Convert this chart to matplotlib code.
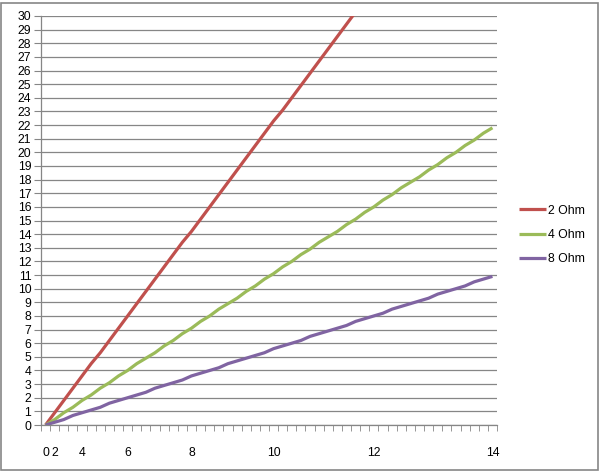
import matplotlib
matplotlib.use("Agg")
import matplotlib.pyplot as plt
from matplotlib.patches import Rectangle

# ── Data ───────────────────────────────────────────────────────────────
# 50 evenly spaced categories; labels shown only where 2*sqrt(i) is whole
categories = list(range(50))
label_cats = [0, 1, 4, 9, 16, 25, 36, 49]
label_text = ["0", "2", "4", "6", "8", "10", "12", "14"]

ohm2 = [0, 0.9, 1.8, 2.7, 3.6, 4.5, 5.3, 6.2, 7.1, 8.0,
        8.9, 9.8, 10.7, 11.6, 12.5, 13.4, 14.2, 15.1, 16.0, 16.9,
        17.8, 18.7, 19.6, 20.5, 21.4, 22.3, 23.1, 24.0, 24.9, 25.8,
        26.7, 27.6, 28.5, 29.4, 30.3, 31.2, 32.0, 32.9, 33.8, 34.7,
        35.6, 36.5, 37.4, 38.3, 39.2, 40.1, 40.9, 41.8, 42.7, 43.6]
ohm4 = [0, 0.4, 0.9, 1.3, 1.8, 2.2, 2.7, 3.1, 3.6, 4.0,
        4.5, 4.9, 5.3, 5.8, 6.2, 6.7, 7.1, 7.6, 8.0, 8.5,
        8.9, 9.3, 9.8, 10.2, 10.7, 11.1, 11.6, 12.0, 12.5, 12.9,
        13.4, 13.8, 14.2, 14.7, 15.1, 15.6, 16.0, 16.5, 16.9, 17.4,
        17.8, 18.2, 18.7, 19.1, 19.6, 20.0, 20.5, 20.9, 21.4, 21.8]
ohm8 = [0, 0.2, 0.4, 0.7, 0.9, 1.1, 1.3, 1.6, 1.8, 2.0,
        2.2, 2.4, 2.7, 2.9, 3.1, 3.3, 3.6, 3.8, 4.0, 4.2,
        4.5, 4.7, 4.9, 5.1, 5.3, 5.6, 5.8, 6.0, 6.2, 6.5,
        6.7, 6.9, 7.1, 7.3, 7.6, 7.8, 8.0, 8.2, 8.5, 8.7,
        8.9, 9.1, 9.3, 9.6, 9.8, 10.0, 10.2, 10.5, 10.7, 10.9]

series = [("2 Ohm", ohm2, "#C0504D"),
          ("4 Ohm", ohm4, "#9BBB59"),
          ("8 Ohm", ohm8, "#8064A2")]

GRID = "#868686"
plt.rcParams["font.family"] = ["Liberation Sans", "DejaVu Sans"]

fig = plt.figure(figsize=(6.0, 4.71), dpi=100)
ax = fig.add_axes([41 / 600, 46 / 471, 456 / 600, 409 / 471])

for name, vals, col in series:
    ax.plot(categories, vals, color=col, lw=2.3, label=name,
            solid_capstyle="butt")

ax.set_xlim(-0.5, 49.5)
ax.set_ylim(0, 30)
ax.set_yticks(range(0, 31))
ax.yaxis.grid(True, color=GRID, lw=0.9)
ax.set_axisbelow(True)

ax.set_xticks(label_cats)
ax.set_xticklabels(label_text)
ax.set_xticks([c - 0.5 for c in categories] + [49.5], minor=True)
ax.tick_params(axis="x", which="major", length=0, pad=16, labelsize=8.8)
ax.tick_params(axis="x", which="minor", length=4, color=GRID, direction="out")
ax.tick_params(axis="y", length=5, color=GRID, labelsize=8.8, pad=2)

for s in ("top", "right"):
    ax.spines[s].set_visible(False)
for s in ("left", "bottom"):
    ax.spines[s].set_color(GRID)
    ax.spines[s].set_linewidth(0.9)

ax.legend(loc="center left", bbox_to_anchor=(1.025, 0.465), frameon=False,
          fontsize=8.8, handlelength=2.2, handletextpad=0.1,
          labelspacing=1.0)

# chart area border
fig.patches.append(Rectangle((1 / 600, 1 / 471), 597 / 600, 467 / 471,
                             transform=fig.transFigure, fill=False,
                             edgecolor=GRID, lw=1.2))

fig.savefig("out.png", dpi=100)
